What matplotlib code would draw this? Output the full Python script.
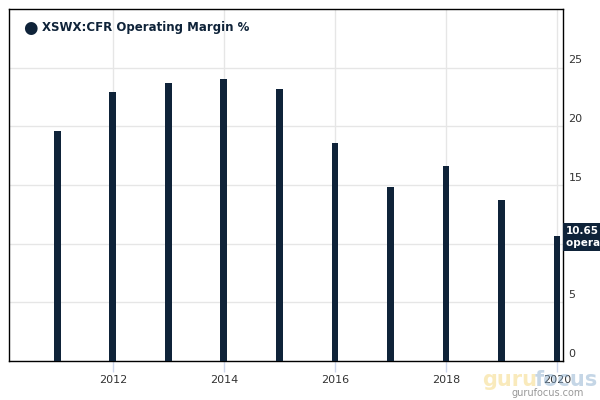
import matplotlib
matplotlib.use("Agg")
import matplotlib.pyplot as plt
import matplotlib.transforms as mtransforms

years = [2011, 2012, 2013, 2014, 2015, 2016, 2017, 2018, 2019, 2020]
margin = [19.6, 22.9, 23.7, 24.0, 23.2, 18.6, 14.8, 16.6, 13.7, 10.65]
y_ticks = [0, 5, 10, 15, 20, 25]
x_ticks = [2012, 2014, 2016, 2018, 2020]

NAVY = "#0f2339"

fig = plt.figure(figsize=(6, 4), dpi=100)
ax = fig.add_axes([9 / 600, 39 / 400, 554 / 600, 352 / 400])

ax.bar(years, margin, width=0.12, color=NAVY, zorder=3)
ax.set_xlim(2010.13, 2020.11)
ax.set_ylim(0, 30)

ax.set_xticks(x_ticks)
ax.set_xticklabels([str(x) for x in x_ticks], fontsize=8, color="#333333")
ax.tick_params(axis="x", length=8, color="#ccd6eb", width=1, pad=2)

ax.yaxis.tick_right()
ax.set_yticks(y_ticks)
ax.set_yticklabels([str(v) for v in y_ticks], fontsize=8, color="#333333")
ax.tick_params(axis="y", length=0, pad=4)
shift = mtransforms.ScaledTranslation(0, 6 / 72, fig.dpi_scale_trans)
for lab in ax.get_yticklabels():
    lab.set_transform(lab.get_transform() + shift)

ax.grid(True, color="#e6e6e6", linewidth=1, zorder=0)
for s in ax.spines.values():
    s.set_color("black")
    s.set_linewidth(1)

# legend
fig.text(30 / 600, 1 - 28 / 400, "\u25cf", fontsize=12, color=NAVY, ha="center", va="center")
fig.text(42 / 600, 1 - 28 / 400, "XSWX:CFR Operating Margin %", fontsize=8.5,
         fontweight="bold", color=NAVY, va="center")

# last value label (cut off by the right edge, as in the original)
fig.text(566 / 600, 1 - 237 / 400, "10.65\noperating margin", fontsize=7.5,
         fontweight="bold", color="white", va="center", ha="left", linespacing=1.2,
         bbox=dict(boxstyle="square,pad=0.3", facecolor=NAVY, edgecolor="none"))

# watermark
fig.text(482 / 600, 1 - 380 / 400, "guru", fontsize=15, fontweight="bold",
         color="#f5d77a", alpha=0.5, ha="left", va="center")
fig.text(535 / 600, 1 - 380 / 400, "focus", fontsize=15, fontweight="bold",
         color="#7fa6c9", alpha=0.45, ha="left", va="center")
fig.text(548 / 600, 1 - 393 / 400, "gurufocus.com", fontsize=7,
         color="#555555", alpha=0.6, ha="center", va="center")

fig.savefig("out.png", dpi=100)
